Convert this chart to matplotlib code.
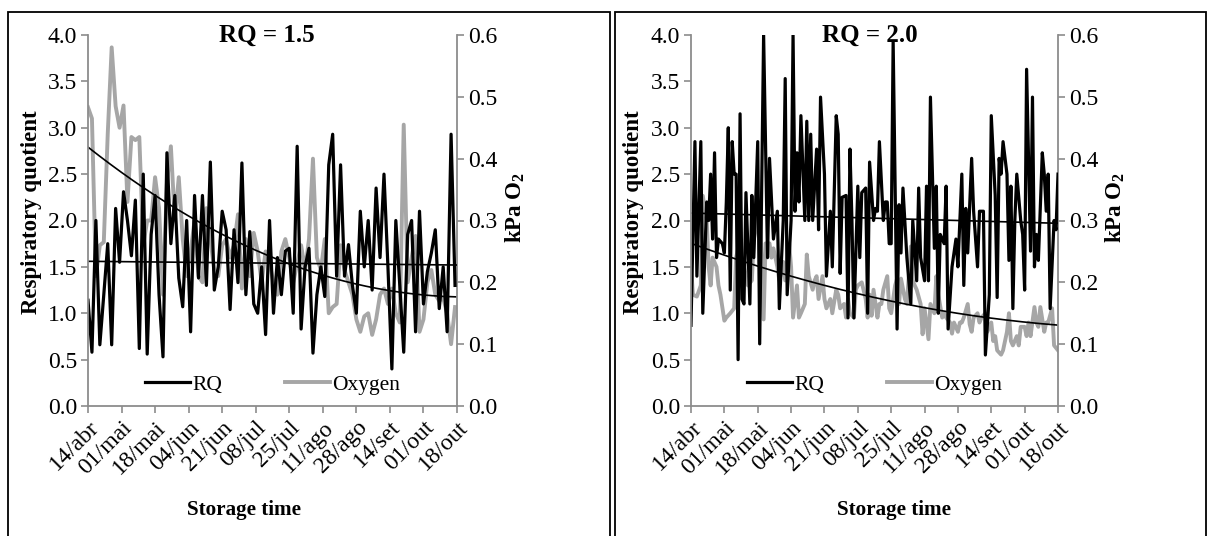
import matplotlib
matplotlib.use('Agg')
import matplotlib.pyplot as plt
import numpy as np
from matplotlib.patches import Rectangle

plt.rcParams['font.family'] = ['Liberation Serif', 'DejaVu Serif']
plt.rcParams['mathtext.fontset'] = 'custom'
plt.rcParams['mathtext.rm'] = 'Liberation Serif'
plt.rcParams['mathtext.bf'] = 'Liberation Serif:bold'

# ---------------- data ----------------
tick_days = [0, 17, 34, 51, 68, 85, 102, 119, 136, 153, 170, 187]
tick_labels = ['14/abr', '01/mai', '18/mai', '04/jun', '21/jun', '08/jul',
               '25/jul', '11/ago', '28/ago', '14/set', '01/out', '18/out']

# Panel RQ = 1.5 (days every 2 days from 14/abr)
days_l = list(range(0, 188, 2))
rq_l = [1.14, 0.58, 2.00, 0.66, 1.20, 1.75, 0.66, 2.13, 1.55, 2.31,
        2.00, 1.62, 2.22, 0.62, 2.50, 0.56, 1.85, 2.27, 1.20, 0.53,
        2.73, 1.75, 2.27, 1.38, 1.07, 2.00, 0.80, 2.27, 1.38, 2.27,
        1.30, 2.63, 1.25, 1.50, 2.10, 1.90, 1.04, 1.90, 1.33, 2.62,
        1.20, 1.88, 1.10, 1.00, 1.50, 0.77, 2.00, 1.00, 1.60, 1.20,
        1.67, 1.70, 1.00, 2.80, 0.83, 1.50, 1.70, 0.57, 1.20, 1.50,
        1.18, 2.60, 2.93, 1.40, 2.60, 1.40, 1.74, 1.30, 1.00, 2.10,
        1.50, 2.00, 1.25, 2.35, 1.60, 2.50, 1.50, 0.40, 2.00, 1.30,
        0.58, 1.85, 2.00, 0.80, 2.10, 1.10, 1.45, 1.65, 1.90, 1.05,
        1.50, 0.80, 2.93, 1.30]
o2_l = [0.483, 0.465, 0.210, 0.260, 0.265, 0.440, 0.580, 0.485, 0.450, 0.486,
        0.330, 0.435, 0.430, 0.435, 0.260, 0.300, 0.300, 0.370, 0.320, 0.180,
        0.360, 0.420, 0.300, 0.370, 0.270, 0.210, 0.250, 0.300, 0.210, 0.200,
        0.320, 0.270, 0.220, 0.210, 0.260, 0.270, 0.240, 0.260, 0.310, 0.190,
        0.270, 0.210, 0.280, 0.250, 0.200, 0.250, 0.230, 0.200, 0.180, 0.250,
        0.270, 0.240, 0.200, 0.230, 0.260, 0.220, 0.270, 0.400, 0.240, 0.220,
        0.270, 0.150, 0.160, 0.165, 0.260, 0.220, 0.200, 0.180, 0.140, 0.120,
        0.145, 0.150, 0.115, 0.140, 0.180, 0.190, 0.165, 0.190, 0.150, 0.135,
        0.455, 0.200, 0.240, 0.275, 0.120, 0.140, 0.200, 0.220, 0.180, 0.170,
        0.175, 0.150, 0.100, 0.160]
rq_trend_l = [1.56, 1.52]
o2_trend_l = [0.423, 0.375, 0.336, 0.306, 0.279, 0.255, 0.231, 0.212, 0.197,
              0.185, 0.179, 0.177]

# Panel RQ = 2.0
rq_r_days = [0, 2, 3, 5, 6, 8, 9, 10, 11, 12,
             13, 14, 16, 17, 18, 19, 20, 21, 22, 23,
             24, 25, 26, 27, 28, 30, 31, 32, 34, 35,
             37, 39, 40, 42, 44, 45, 47, 48, 49, 51,
             52, 53, 54, 55, 56, 58, 59, 60, 61, 62,
             64, 65, 66, 68, 69, 71, 72, 74, 75, 76,
             77, 79, 80, 81, 82, 83, 85, 86, 87, 89,
             90, 91, 93, 94, 95, 96, 98, 99, 100, 101,
             102, 103, 105, 106, 107, 108, 110, 112, 113, 115,
             116, 117, 119, 120, 121, 122, 124, 125, 126, 127,
             129, 130, 131, 133, 135, 136, 138, 139, 140, 141,
             143, 144, 146, 147, 149, 150, 152, 153, 155, 156,
             157, 158, 159, 161, 162, 163, 164, 165, 166, 168,
             169, 170, 171, 173, 174, 175, 176, 177, 179, 180,
             181, 182, 183, 185, 186, 187]
rq_r = [0.87, 2.85, 1.40, 2.85, 1.00, 2.20, 2.00, 2.50, 1.80, 2.73,
        1.60, 1.80, 1.75, 1.65, 2.20, 3.00, 1.25, 2.85, 2.50, 2.50,
        0.50, 3.15, 1.15, 1.10, 2.30, 1.10, 2.27, 1.60, 2.85, 0.67,
        4.00, 1.60, 2.67, 1.80, 2.10, 1.05, 2.00, 3.53, 1.20, 2.00,
        4.00, 2.10, 2.73, 2.20, 3.13, 2.00, 3.07, 2.00, 2.93, 2.00,
        2.77, 1.90, 3.33, 2.50, 1.40, 2.10, 1.50, 3.13, 2.93, 1.43,
        2.25, 2.27, 0.95, 2.77, 2.00, 0.95, 2.37, 1.60, 2.30, 2.35,
        1.00, 2.63, 2.00, 2.13, 2.10, 2.85, 2.00, 2.20, 2.20, 1.75,
        1.75, 3.93, 0.83, 2.17, 1.65, 2.35, 1.60, 1.10, 2.00, 1.35,
        2.35, 1.60, 1.35, 2.37, 1.35, 3.33, 1.70, 2.37, 1.00, 1.85,
        1.75, 2.37, 0.83, 1.50, 1.80, 1.50, 2.50, 1.30, 2.13, 1.65,
        2.67, 2.10, 1.50, 2.10, 2.10, 0.55, 1.20, 3.13, 2.27, 1.17,
        2.67, 2.50, 2.85, 2.50, 1.57, 2.37, 1.05, 2.00, 2.50, 2.00,
        1.85, 1.25, 3.63, 1.67, 3.33, 1.50, 1.85, 1.57, 2.73, 2.50,
        2.10, 2.50, 1.05, 2.00, 1.90, 2.50]
o2_r_days = [0, 1, 3, 5, 6, 8, 9, 10, 11, 13,
             14, 15, 17, 18, 20, 22, 23, 24, 25, 26,
             28, 29, 31, 32, 34, 35, 37, 38, 40, 41,
             42, 44, 45, 47, 48, 50, 51, 52, 54, 55,
             56, 58, 59, 60, 62, 63, 64, 65, 67, 68,
             69, 71, 72, 74, 75, 76, 78, 79, 80, 81,
             83, 84, 85, 87, 89, 90, 91, 92, 93, 95,
             96, 97, 98, 100, 101, 102, 104, 105, 106, 107,
             109, 110, 112, 113, 114, 115, 117, 118, 119, 121,
             122, 124, 125, 126, 128, 129, 130, 132, 133, 134,
             136, 137, 138, 139, 141, 142, 143, 144, 146, 147,
             148, 150, 151, 153, 154, 155, 156, 158, 159, 161,
             162, 163, 164, 166, 167, 168, 170, 171, 172, 173,
             175, 176, 177, 178, 180, 181, 182, 184, 185, 187]
o2_r = [0.225, 0.180, 0.177, 0.195, 0.340, 0.300, 0.225, 0.195, 0.240, 0.225,
        0.195, 0.180, 0.138, 0.143, 0.150, 0.158, 0.240, 0.255, 0.240, 0.240,
        0.210, 0.195, 0.203, 0.270, 0.300, 0.323, 0.140, 0.263, 0.263, 0.240,
        0.255, 0.225, 0.203, 0.233, 0.203, 0.263, 0.225, 0.143, 0.195, 0.143,
        0.150, 0.165, 0.245, 0.210, 0.188, 0.203, 0.210, 0.173, 0.210, 0.173,
        0.158, 0.173, 0.150, 0.188, 0.180, 0.158, 0.165, 0.143, 0.173, 0.150,
        0.143, 0.188, 0.195, 0.200, 0.173, 0.143, 0.180, 0.146, 0.188, 0.143,
        0.165, 0.165, 0.188, 0.210, 0.158, 0.150, 0.195, 0.206, 0.165, 0.206,
        0.173, 0.165, 0.258, 0.203, 0.195, 0.188, 0.165, 0.116, 0.158, 0.108,
        0.165, 0.150, 0.210, 0.180, 0.143, 0.150, 0.143, 0.135, 0.117, 0.135,
        0.120, 0.135, 0.135, 0.143, 0.165, 0.132, 0.120, 0.143, 0.150, 0.135,
        0.143, 0.150, 0.120, 0.135, 0.105, 0.113, 0.090, 0.083, 0.090, 0.120,
        0.150, 0.105, 0.098, 0.113, 0.098, 0.128, 0.128, 0.113, 0.135, 0.113,
        0.160, 0.135, 0.128, 0.160, 0.120, 0.135, 0.135, 0.158, 0.098, 0.090]
rq_trend_r = [2.08, 1.97]
o2_trend_r = [0.261, 0.248, 0.225, 0.209, 0.195, 0.183, 0.168, 0.159, 0.150,
              0.143, 0.135, 0.131]

# ---------------- figure ----------------
W, H = 1208, 536
fig = plt.figure(figsize=(W / 100, H / 100), dpi=100)

GRAY = '#a6a6a6'
SPINE = '#8c8c8c'
FS_TICK = 17
FS_LEG = 15.5
FS_YLAB = 16.5
FS_XLAB = 15.2


def panel(x0, x1, title, title_x, rq_days, rq, o2_days, o2, rq_tr, o2_tr,
          ylab_x, y2lab_x, xlab_x):
    ax = fig.add_axes([x0 / W, 1 - 406 / H, (x1 - x0) / W, 371 / H])
    ax2 = ax.twinx()
    ax.set_zorder(ax2.get_zorder() + 1)
    ax.patch.set_visible(False)

    l2, = ax2.plot(o2_days, o2, color=GRAY, lw=2.8, solid_joinstyle='round',
                   label='Oxygen')
    # oxygen polynomial trend (smoothed from read values)
    coef = np.polyfit(tick_days, o2_tr, 2)
    dd = np.linspace(0, 187, 200)
    ax2.plot(dd, np.polyval(coef, dd), color='black', lw=1.2)

    l1, = ax.plot(rq_days, rq, color='black', lw=2.3, solid_joinstyle='round',
                  label='RQ')
    ax.plot([0, 187], rq_tr, color='black', lw=1.2)

    ax.set_xlim(0, 187)
    ax.set_ylim(0, 4)
    ax2.set_ylim(0, 0.6)
    ax.set_yticks(np.arange(0, 4.01, 0.5))
    ax.set_yticklabels([f'{v:.1f}' for v in np.arange(0, 4.01, 0.5)])
    ax2.set_yticks(np.arange(0, 0.61, 0.1))
    ax2.set_yticklabels([f'{v:.1f}' for v in np.arange(0, 0.61, 0.1)])
    ax.set_xticks(tick_days)
    ax.set_xticklabels(tick_labels, rotation=45, ha='right',
                       rotation_mode='anchor')

    for a in (ax, ax2):
        for s in a.spines.values():
            s.set_visible(False)
    ax.spines['left'].set_visible(True)
    ax.spines['bottom'].set_visible(True)
    ax2.spines['right'].set_visible(True)
    for s in (ax.spines['left'], ax.spines['bottom'], ax2.spines['right']):
        s.set_color(SPINE)
        s.set_linewidth(1.3)
    ax.tick_params(axis='both', direction='out', length=5, width=1.2,
                   color=SPINE, labelsize=FS_TICK, pad=3)
    ax2.tick_params(axis='y', direction='out', length=5, width=1.2,
                    color=SPINE, labelsize=FS_TICK, pad=3)

    ax.text(title_x, 1.0, title, transform=ax.transAxes, ha='center',
            va='center', fontsize=18, fontweight='bold')

    ax.legend([l1, l2], ['RQ', 'Oxygen'], loc='center',
              bbox_to_anchor=(0.5, 0.057), ncol=2, frameon=False,
              fontsize=FS_LEG, handlelength=2.1, handletextpad=0.1,
              columnspacing=2.9)

    fig.text(ylab_x / W, 1 - 212 / H, 'Respiratory quotient', rotation=90,
             ha='center', va='center', fontsize=FS_YLAB, fontweight='bold')
    fig.text(y2lab_x / W, 1 - 207 / H, r'kPa O$_\mathbf{2}$', rotation=90,
             ha='center', va='center', fontsize=FS_YLAB, fontweight='bold')
    fig.text(xlab_x / W, 1 - 510 / H, 'Storage time', ha='center',
             va='center', fontsize=FS_XLAB, fontweight='bold')
    return ax


panel(88, 457, 'RQ = 1.5', 0.485, days_l, rq_l, days_l, o2_l,
      rq_trend_l, o2_trend_l, 32, 515, 244)
panel(691, 1058, 'RQ = 2.0', 0.488, rq_r_days, rq_r, o2_r_days, o2_r,
      rq_trend_r, o2_trend_r, 633, 1115, 894)

# panel frames
fig.add_artist(Rectangle((8 / W, -0.05), (610 - 8) / W, 1.05 - 12 / H,
                         transform=fig.transFigure, fill=False,
                         ec='black', lw=1.3))
fig.add_artist(Rectangle((615 / W, -0.05), (1206 - 615) / W, 1.05 - 12 / H,
                         transform=fig.transFigure, fill=False,
                         ec='black', lw=1.3))

fig.savefig('out.png', dpi=100)
